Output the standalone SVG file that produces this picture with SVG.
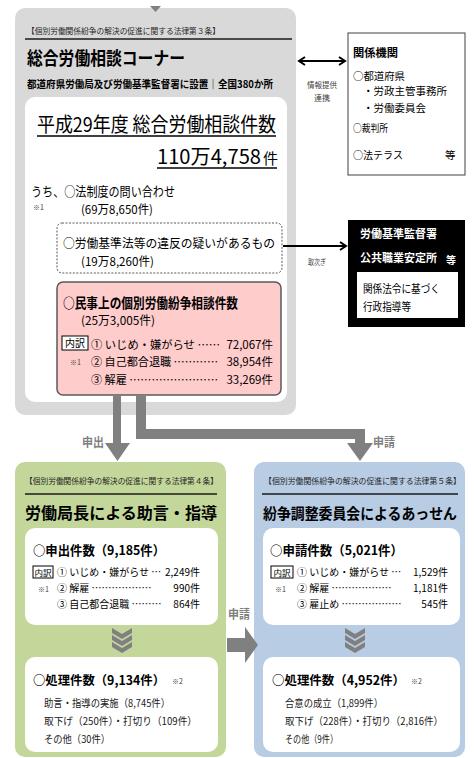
<svg xmlns="http://www.w3.org/2000/svg" width="474" height="758" viewBox="0 0 474 758">
<defs>
<style>
text{font-family:"Noto Sans CJK JP","Noto Sans",sans-serif;fill:#000}
.b{font-weight:bold}
.hd{font-size:8px;fill:#262626}
.sm{font-size:7px;fill:#404040}
.rp{font-size:11.5px}
.r12{font-size:12px}
.r11{font-size:11px}
.rk{font-size:10.5px}
.rg{font-size:10px}
.dt{font-size:10.5px;fill:#1a1a1a}
.lbl{font-size:12px;font-weight:bold;fill:#7f7f7f}
.cap{font-size:8px;fill:#404040}
.w{fill:#fff}
.gray{fill:#808080}
.hline{stroke:#1a1a1a;stroke-width:1.3}
.uline{stroke:#000;stroke-width:1.5}
.box{fill:#fff;stroke:#000;stroke-width:1}
.conn{stroke:#000;stroke-width:2;fill:none}
</style>
<marker id="ah" viewBox="0 0 10 10" refX="8" refY="5" markerWidth="10" markerHeight="10" markerUnits="userSpaceOnUse" orient="auto-start-reverse">
<path d="M2,1 L8,5 L2,9" fill="none" stroke="#000" stroke-width="2"/>
</marker>
</defs>

<g id="soudan-corner">
<rect x="15" y="8" width="281" height="407" rx="10" fill="#d9d9d9"/>
<polygon points="150,6 161,6 155.5,12" fill="#808080"/>
<text class="hd" x="27" y="34" textLength="193" lengthAdjust="spacingAndGlyphs">【個別労働関係紛争の解決の促進に関する法律第３条】</text>
<line class="hline" x1="25" y1="39" x2="292" y2="39"/>
<text class="b" x="27" y="65" font-size="18" textLength="158" lengthAdjust="spacingAndGlyphs">総合労働相談コーナー</text>
<text class="b" x="27" y="88" font-size="10.5" textLength="246" lengthAdjust="spacingAndGlyphs">都道府県労働局及び労働基準監督署に設置｜全国380か所</text>
<rect x="25" y="97" width="262" height="305" rx="10" fill="#fff"/>
<text x="37" y="132" font-size="20" textLength="239" lengthAdjust="spacingAndGlyphs">平成29年度 総合労働相談件数</text>
<line class="uline" x1="37" y1="136" x2="276" y2="136"/>
<text x="157" y="164" font-size="20" textLength="104" lengthAdjust="spacingAndGlyphs">110万4,758</text>
<text x="263" y="164" font-size="15">件</text>
<line class="uline" x1="157" y1="168" x2="277" y2="168"/>
<text x="31" y="196" font-size="13" textLength="144" lengthAdjust="spacingAndGlyphs">うち、○法制度の問い合わせ</text>
<text class="sm" x="33" y="210">※1</text>
<text class="r12" x="81" y="214" textLength="72" lengthAdjust="spacingAndGlyphs">(69万8,650件)</text>
</g>

<g id="ihan">
<rect x="57" y="223" width="225" height="50" rx="5" fill="#fff" stroke="#595959" stroke-width="1" stroke-dasharray="2,1.5"/>
<text x="63" y="248" font-size="12.5" textLength="212" lengthAdjust="spacingAndGlyphs">○労働基準法等の違反の疑いがあるもの</text>
<text class="r12" x="81" y="266" textLength="73" lengthAdjust="spacingAndGlyphs">(19万8,260件)</text>
</g>

<g id="minji">
<rect x="57" y="282" width="224" height="113" rx="6" fill="#ffcccc" stroke="#595959" stroke-width="1.5"/>
<text class="b" x="63" y="308" font-size="14" textLength="175" lengthAdjust="spacingAndGlyphs">○民事上の個別労働紛争相談件数</text>
<text class="r12" x="81" y="325" textLength="74" lengthAdjust="spacingAndGlyphs">(25万3,005件)</text>
<rect class="box" x="62" y="336" width="26" height="14"/>
<text x="75" y="347" font-size="10" text-anchor="middle">内訳</text>
<text class="sm" x="70" y="365">※1</text>
<text class="rp" x="91" y="349" textLength="129" lengthAdjust="spacingAndGlyphs">① いじめ・嫌がらせ ……</text>
<text class="rp" x="273" y="349" text-anchor="end">72,067件</text>
<text class="rp" x="91" y="366" textLength="127" lengthAdjust="spacingAndGlyphs">② 自己都合退職 …………</text>
<text class="rp" x="273" y="366" text-anchor="end">38,954件</text>
<text class="rp" x="91" y="384" textLength="127" lengthAdjust="spacingAndGlyphs">③ 解雇 ……………………</text>
<text class="rp" x="273" y="384" text-anchor="end">33,269件</text>
</g>

<g id="kankei">
<rect x="348" y="33" width="117" height="142" fill="#fff" stroke="#404040" stroke-width="1"/>
<text class="b" x="353" y="57" font-size="11.5" textLength="45" lengthAdjust="spacingAndGlyphs">関係機関</text>
<text class="rk" x="353" y="79.5" textLength="52" lengthAdjust="spacingAndGlyphs">○都道府県</text>
<text class="rk" x="363" y="95" textLength="84" lengthAdjust="spacingAndGlyphs">・労政主管事務所</text>
<text class="rk" x="363" y="112" textLength="63" lengthAdjust="spacingAndGlyphs">・労働委員会</text>
<text class="rk" x="353" y="132" textLength="35" lengthAdjust="spacingAndGlyphs">○裁判所</text>
<text class="rk" x="353" y="159" textLength="50" lengthAdjust="spacingAndGlyphs">○法テラス</text>
<text class="rk" x="445" y="159">等</text>
</g>

<g id="kantoku">
<rect x="348" y="220" width="117" height="107" fill="#000"/>
<text class="b w" x="360" y="238" font-size="11.5" textLength="77" lengthAdjust="spacingAndGlyphs">労働基準監督署</text>
<text class="b w" x="360" y="262" font-size="11.5" textLength="77" lengthAdjust="spacingAndGlyphs">公共職業安定所</text>
<text class="b w" x="446" y="264" font-size="10">等</text>
<rect x="357" y="272" width="101" height="46" fill="#fff"/>
<text class="r11" x="363" y="293" textLength="77" lengthAdjust="spacingAndGlyphs">関係法令に基づく</text>
<text class="r11" x="363" y="311" textLength="48" lengthAdjust="spacingAndGlyphs">行政指導等</text>
</g>

<g id="josen">
<rect x="15" y="462" width="211" height="295" rx="10" fill="#c4d79b"/>
<text class="hd" x="25" y="484" textLength="193" lengthAdjust="spacingAndGlyphs">【個別労働関係紛争の解決の促進に関する法律第４条】</text>
<line class="hline" x1="25" y1="494" x2="217" y2="494"/>
<text class="b" x="25" y="519" font-size="16" textLength="192" lengthAdjust="spacingAndGlyphs">労働局長による助言・指導</text>
<rect x="25" y="528" width="193" height="97" rx="10" fill="#fff"/>
<text class="b" x="33" y="555" font-size="13" textLength="132" lengthAdjust="spacingAndGlyphs">○申出件数（9,185件）</text>
<rect class="box" x="33" y="566" width="20" height="12"/>
<text x="43" y="575.5" font-size="8.5" text-anchor="middle">内訳</text>
<text class="sm" x="38" y="592">※1</text>
<text class="rg" x="57" y="576">① いじめ・嫌がらせ …</text>
<text class="rg" x="200" y="576" text-anchor="end">2,249件</text>
<text class="rg" x="57" y="592">② 解雇 ………………</text>
<text class="rg" x="200" y="592" text-anchor="end">990件</text>
<text class="rg" x="57" y="608">③ 自己都合退職 ………</text>
<text class="rg" x="200" y="608" text-anchor="end">864件</text>
<polygon class="gray" points="112,628 122,634 132,628 132,633 122,639 112,633"/>
<polygon class="gray" points="112,635 122,641 132,635 132,640 122,646 112,640"/>
<polygon class="gray" points="112,642 122,648 132,642 132,647 122,653 112,647"/>
<rect x="25" y="657" width="193" height="95" rx="10" fill="#fff"/>
<text class="b" x="33" y="685" font-size="12.5" textLength="132" lengthAdjust="spacingAndGlyphs">○処理件数（9,134件）</text>
<text class="sm" x="172" y="684" font-size="8">※2</text>
<text class="dt" x="44" y="707" textLength="126" lengthAdjust="spacingAndGlyphs">助言・指導の実施（8,745件）</text>
<text class="dt" x="44" y="725" textLength="153" lengthAdjust="spacingAndGlyphs">取下げ（250件）・打切り（109件）</text>
<text class="dt" x="44" y="743" textLength="66" lengthAdjust="spacingAndGlyphs">その他（30件）</text>
</g>

<g id="assen">
<rect x="254" y="462" width="211" height="295" rx="10" fill="#b8cce4"/>
<text class="hd" x="264" y="484" textLength="197" lengthAdjust="spacingAndGlyphs">【個別労働関係紛争の解決の促進に関する法律第５条】</text>
<line class="hline" x1="262" y1="494" x2="458" y2="494"/>
<text class="b" x="263" y="519" font-size="15" textLength="194" lengthAdjust="spacingAndGlyphs">紛争調整委員会によるあっせん</text>
<rect x="263" y="528" width="197" height="97" rx="10" fill="#fff"/>
<text class="b" x="270" y="555" font-size="13" textLength="133" lengthAdjust="spacingAndGlyphs">○申請件数（5,021件）</text>
<rect class="box" x="271" y="566" width="22" height="12"/>
<text x="282" y="575.5" font-size="8.5" text-anchor="middle">内訳</text>
<text class="sm" x="275" y="592">※1</text>
<text class="rg" x="297" y="576">① いじめ・嫌がらせ …</text>
<text class="rg" x="448" y="576" text-anchor="end">1,529件</text>
<text class="rg" x="297" y="592">② 解雇 ………………</text>
<text class="rg" x="448" y="592" text-anchor="end">1,181件</text>
<text class="rg" x="297" y="608">③ 雇止め ………………</text>
<text class="rg" x="448" y="608" text-anchor="end">545件</text>
<polygon class="gray" points="345,628 355,634 365,628 365,633 355,639 345,633"/>
<polygon class="gray" points="345,635 355,641 365,635 365,640 355,646 345,640"/>
<polygon class="gray" points="345,642 355,648 365,642 365,647 355,653 345,647"/>
<rect x="263" y="657" width="197" height="95" rx="10" fill="#fff"/>
<text class="b" x="272" y="685" font-size="12.5" textLength="133" lengthAdjust="spacingAndGlyphs">○処理件数（4,952件）</text>
<text class="sm" x="411" y="684" font-size="8">※2</text>
<text class="dt" x="285" y="707" textLength="98" lengthAdjust="spacingAndGlyphs">合意の成立（1,899件）</text>
<text class="dt" x="285" y="725" textLength="158" lengthAdjust="spacingAndGlyphs">取下げ（228件）・打切り（2,816件）</text>
<text class="dt" x="285" y="743" textLength="53" lengthAdjust="spacingAndGlyphs">その他（9件）</text>
</g>

<g id="connectors">
<line class="conn" x1="299" y1="61" x2="345" y2="61" marker-start="url(#ah)" marker-end="url(#ah)"/>
<text class="cap" x="322" y="88" text-anchor="middle" textLength="30" lengthAdjust="spacingAndGlyphs">情報提供</text>
<text class="cap" x="322" y="101" text-anchor="middle">連携</text>
<line class="conn" x1="283" y1="246" x2="346" y2="246" marker-end="url(#ah)"/>
<text class="cap" x="308" y="265" textLength="18" lengthAdjust="spacingAndGlyphs">取次ぎ</text>
<polygon class="gray" points="113,396 121,396 121,443 130,443 117.5,461 105,443 113,443"/>
<polygon class="gray" points="136,396 146,396 146,429 365,429 365,443 373,443 360,461 347,443 355,443 355,439 136,439"/>
<text class="lbl" x="82" y="447" textLength="22" lengthAdjust="spacingAndGlyphs">申出</text>
<text class="lbl" x="373" y="447" textLength="22" lengthAdjust="spacingAndGlyphs">申請</text>
<polygon class="gray" points="227,638 245,638 245,627 258,645 245,663 245,652 227,652"/>
<text class="lbl" x="228" y="619" textLength="22" lengthAdjust="spacingAndGlyphs">申請</text>
</g>
</svg>
